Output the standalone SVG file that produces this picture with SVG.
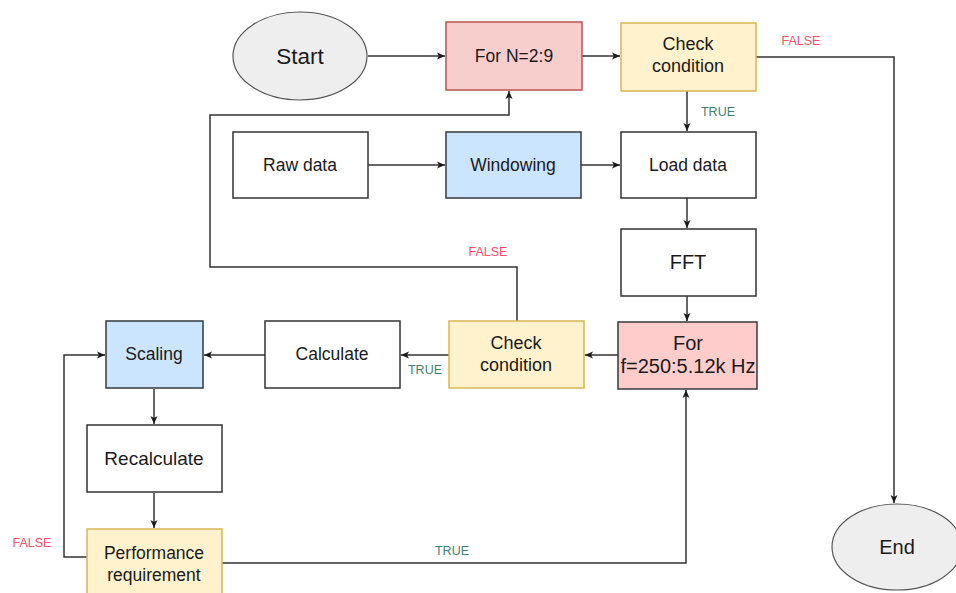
<svg xmlns="http://www.w3.org/2000/svg" width="956" height="593" viewBox="0 0 956 593">
<defs>
<marker id="arr" markerWidth="10" markerHeight="10" refX="9" refY="5" orient="auto" markerUnits="userSpaceOnUse">
<path d="M1,1.5 L9,5 L1,8.5 L3,5 Z" fill="#1a1a1a"/>
</marker>
<style>
.box{stroke:#333;stroke-width:1.5;fill:#fff}
.red{fill:#f8cecc;stroke:#b85450}
.red2{fill:#ffcccc;stroke:#36393d}
.yel{fill:#fff2cc;stroke:#d6b656}
.blue{fill:#cce5ff;stroke:#36393d}
.ell{fill:#eeeeee;stroke:#555;stroke-width:1.2}
text{font-family:"Liberation Sans",Arial,sans-serif;fill:#1a1a1a;text-anchor:middle;dominant-baseline:central}
.s{font-size:17.5px}
.m{font-size:18px}
.edge{fill:none;stroke:#333;stroke-width:1.5}
.f{fill:#ff4d6a;font-size:12.5px}
.t{fill:#3f7f6f;font-size:12.5px}
</style>
</defs>
<g id="connectors">
<path class="edge" d="M368,56 L445,56" marker-end="url(#arr)"/>
<path class="edge" d="M582,56 L620,56" marker-end="url(#arr)"/>
<path class="edge" d="M756,57 L894,57 L894,503" marker-end="url(#arr)"/>
<path class="edge" d="M687,91 L687,131" marker-end="url(#arr)"/>
<path class="edge" d="M368,165 L445,165" marker-end="url(#arr)"/>
<path class="edge" d="M581,165 L620,165" marker-end="url(#arr)"/>
<path class="edge" d="M687,198 L687,228" marker-end="url(#arr)"/>
<path class="edge" d="M687,296 L687,321" marker-end="url(#arr)"/>
<path class="edge" d="M618,355 L585,355" marker-end="url(#arr)"/>
<path class="edge" d="M517,321 L517,267 L210,267 L210,115 L509,115 L509,91" marker-end="url(#arr)"/>
<path class="edge" d="M449,355 L401,355" marker-end="url(#arr)"/>
<path class="edge" d="M265,355 L204,355" marker-end="url(#arr)"/>
<path class="edge" d="M154,389 L154,424" marker-end="url(#arr)"/>
<path class="edge" d="M154,493 L154,528" marker-end="url(#arr)"/>
<path class="edge" d="M87,557 L64,557 L64,355 L105,355" marker-end="url(#arr)"/>
<path class="edge" d="M222,563 L686,563 L686,390" marker-end="url(#arr)"/>
<text class="f" x="801" y="41">FALSE</text>
<text class="t" x="718" y="112">TRUE</text>
<text class="f" x="488" y="252">FALSE</text>
<text class="t" x="425" y="370">TRUE</text>
<text class="f" x="32" y="543">FALSE</text>
<text class="t" x="452" y="551">TRUE</text>
</g>
<g id="start"><ellipse class="ell" cx="300" cy="56" rx="67" ry="44"/><text x="300" y="56" font-size="22.5">Start</text></g>
<g id="forN"><rect class="box red" x="446" y="22" width="136" height="68"/><text class="s" x="514" y="56">For N=2:9</text></g>
<g id="check1"><rect class="box yel" x="621" y="23" width="135" height="68"/><text class="m" x="688" y="44">Check</text><text class="m" x="688" y="66">condition</text></g>
<g id="raw"><rect class="box" x="233" y="132" width="135" height="66"/><text class="s" x="300" y="165">Raw data</text></g>
<g id="windowing"><rect class="box blue" x="446" y="132" width="135" height="66"/><text class="s" x="513" y="165">Windowing</text></g>
<g id="load"><rect class="box" x="621" y="132" width="135" height="66"/><text class="s" x="688" y="165">Load data</text></g>
<g id="fft"><rect class="box" x="621" y="229" width="135" height="67"/><text x="688" y="262" font-size="20">FFT</text></g>
<g id="forf"><rect class="box red2" x="618" y="322" width="139" height="67"/><text x="688" y="343" font-size="20">For</text><text x="688" y="366" font-size="20">f=250:5.12k Hz</text></g>
<g id="check2"><rect class="box yel" x="449" y="321" width="135" height="67"/><text class="m" x="516" y="343">Check</text><text class="m" x="516" y="365">condition</text></g>
<g id="calculate"><rect class="box" x="265" y="321" width="135" height="67"/><text class="s" x="332" y="354">Calculate</text></g>
<g id="scaling"><rect class="box blue" x="106" y="321" width="97" height="67"/><text class="s" x="154" y="354">Scaling</text></g>
<g id="recalculate"><rect class="box" x="87" y="425" width="135" height="67"/><text x="154" y="458" font-size="19">Recalculate</text></g>
<g id="performance"><rect class="box yel" x="87" y="529" width="135" height="70"/><text class="s" x="154" y="553">Performance</text><text class="s" x="154" y="575">requirement</text></g>
<g id="end"><ellipse class="ell" cx="897" cy="547" rx="65" ry="43"/><text x="897" y="547" font-size="20">End</text></g>
</svg>
